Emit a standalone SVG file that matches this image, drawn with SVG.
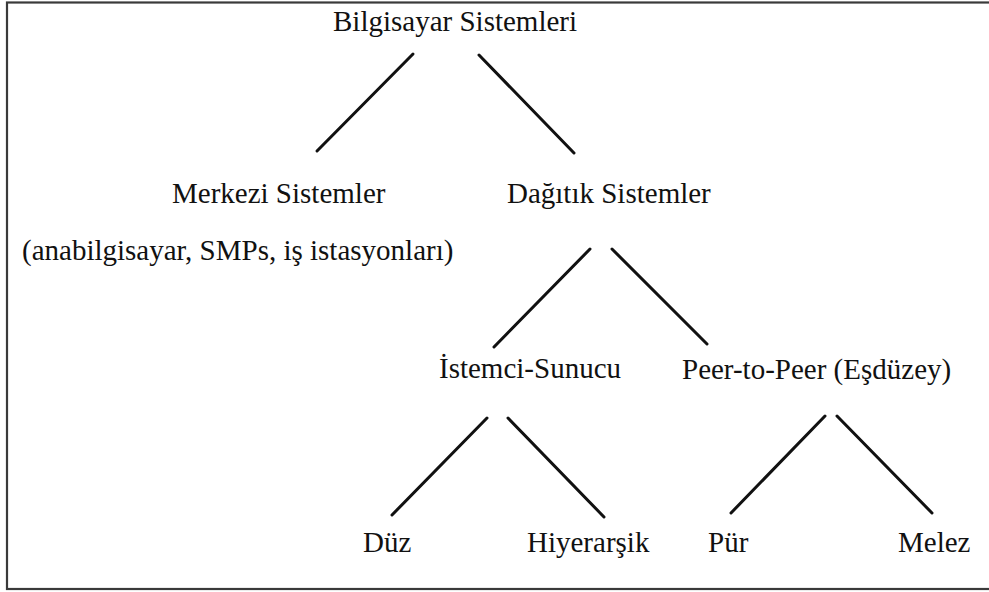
<svg xmlns="http://www.w3.org/2000/svg" width="989" height="592" viewBox="0 0 989 592">
  <style>
    .frame { fill: #ffffff; stroke: #3a3a3a; stroke-width: 2.2; }
    .label { font-family: 'Liberation Serif', 'Times New Roman', Times, 'DejaVu Serif', serif; font-size: 29px; fill: #111111; }
    .edge { stroke: #111111; stroke-width: 3; stroke-linecap: round; fill: none; }
  </style>

  <!-- outer frame (right side runs past the canvas) -->
  <rect class="frame" x="7" y="2.5" width="1000" height="586.5"/>

  <!-- connectors -->
  <g id="connectors">
    <line class="edge" x1="413" y1="54" x2="317" y2="151"/>
    <line class="edge" x1="479" y1="55" x2="574" y2="153"/>
    <line class="edge" x1="590" y1="249" x2="494" y2="347"/>
    <line class="edge" x1="612" y1="249" x2="707" y2="344"/>
    <line class="edge" x1="487" y1="418" x2="392" y2="515"/>
    <line class="edge" x1="508" y1="418" x2="604" y2="517"/>
    <line class="edge" x1="825" y1="416" x2="731" y2="513"/>
    <line class="edge" x1="837" y1="416" x2="932" y2="513"/>
  </g>

  <!-- nodes -->
  <g id="bilgisayar-sistemleri">
    <text class="label" font-family="Liberation Serif, serif" x="333" y="31">Bilgisayar Sistemleri</text>
  </g>
  <g id="merkezi-sistemler">
    <text class="label" font-family="Liberation Serif, serif" x="172" y="203">Merkezi Sistemler</text>
    <text class="label" font-family="Liberation Serif, serif" x="22" y="260">(anabilgisayar, SMPs, iş istasyonları)</text>
  </g>
  <g id="dagitik-sistemler">
    <text class="label" font-family="Liberation Serif, serif" x="507" y="203">Dağıtık Sistemler</text>
  </g>
  <g id="istemci-sunucu">
    <text class="label" font-family="Liberation Serif, serif" x="439" y="378">İstemci-Sunucu</text>
  </g>
  <g id="peer-to-peer">
    <text class="label" font-family="Liberation Serif, serif" x="682" y="379">Peer-to-Peer (Eşdüzey)</text>
  </g>
  <g id="duz">
    <text class="label" font-family="Liberation Serif, serif" x="363" y="552">Düz</text>
  </g>
  <g id="hiyerarsik">
    <text class="label" font-family="Liberation Serif, serif" x="527" y="552">Hiyerarşik</text>
  </g>
  <g id="pur">
    <text class="label" font-family="Liberation Serif, serif" x="708" y="552">Pür</text>
  </g>
  <g id="melez">
    <text class="label" font-family="Liberation Serif, serif" x="898" y="552">Melez</text>
  </g>
</svg>
